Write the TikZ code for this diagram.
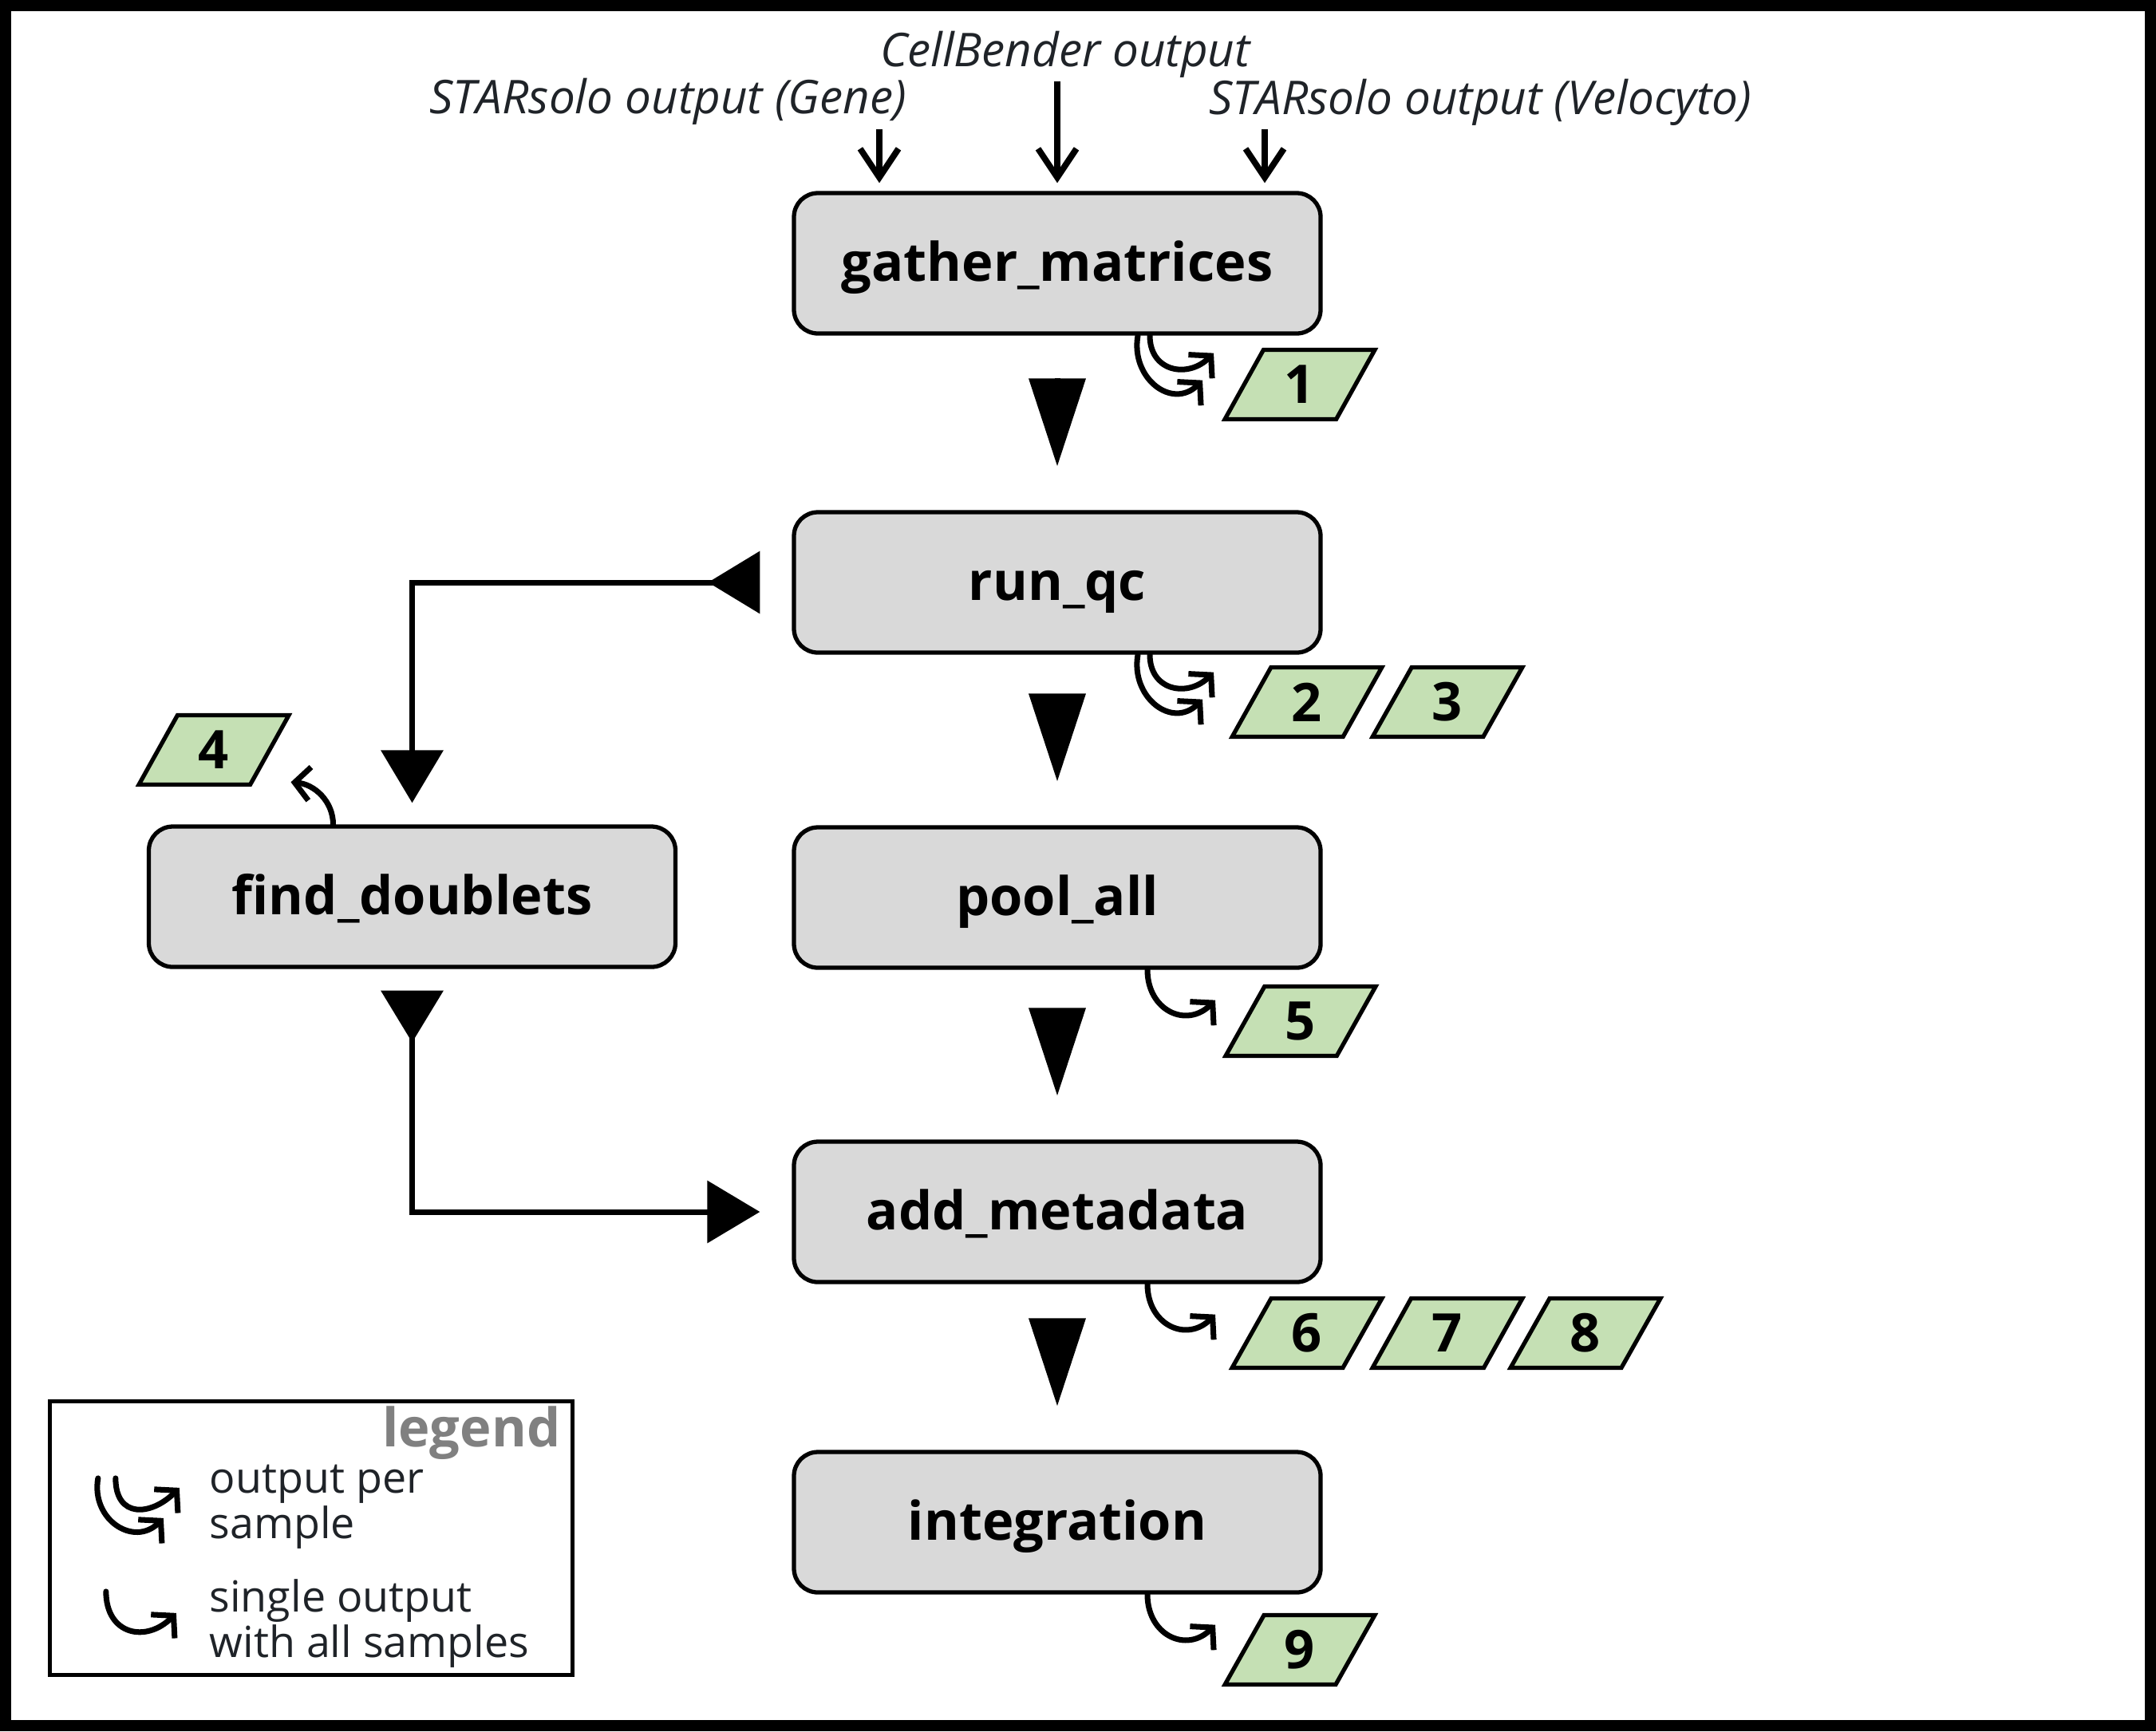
\documentclass[tikz,border=0pt]{standalone}
\usepackage{fontspec}
\setsansfont{Open Sans}
\usepackage{xcolor}
\usepackage{tikz}
\usetikzlibrary{arrows.meta, shapes.geometric, calc}
\definecolor{Ink}{HTML}{1F2328}
\definecolor{BoxGrey}{HTML}{D9D9D9}
\definecolor{OutGreen}{HTML}{C5E0B4}
\definecolor{LegendGrey}{HTML}{808080}

\begin{document}
\begin{tikzpicture}[
  font=\sffamily,
  stage/.style={rounded corners=0.3cm, draw=black, line width=1.5pt, fill=BoxGrey, minimum width=6.6cm, minimum height=1.76cm, inner sep=0pt, text height=0.5cm, text depth=0.06cm, font=\sffamily\bfseries\fontsize{19}{23}\selectfont},
  output/.style={trapezium, trapezium left angle=67, trapezium right angle=113, trapezium stretches=true, draw=black, line width=1.5pt, fill=OutGreen, minimum width=1.88cm, minimum height=0.87cm, inner sep=0pt, font=\sffamily\bfseries\fontsize{19}{23}\selectfont},
  inlabel/.style={text=Ink, inner sep=0pt, font=\sffamily\itshape\fontsize{16.6}{19}\selectfont},
  legendtext/.style={align=left, inner sep=0pt, text=Ink, font=\sffamily\fontsize{15.3}{12.6}\selectfont},
  inarrow/.style={-{Straight Barb[length=3.6mm, width=4.8mm]}, line width=2.2pt, shorten >=0.1cm},
  hook/.style={-{Straight Barb[length=1.9mm, width=4.2mm]}, line width=2pt, line cap=round, line join=round},
  stepdown/.style={-{Triangle[length=11mm, width=7mm]}, line width=2pt, shorten <=0.53cm, shorten >=0.55cm},
  branch/.style={arrows={{Triangle[reversed, length=6.5mm, width=7.7mm]}-{Triangle[length=6.6mm, width=7.7mm]}}, line width=2pt}
]
\useasboundingbox (0,0) rectangle (27.02,-21.70);
\draw[line width=0.14cm] (0.07,-0.07) rectangle (26.95,-21.63);

% pipeline stages
\node[stage] (gather) at (13.25,-3.30) {gather\_matrices};
\node[stage] (runqc) at (13.25,-7.30) {run\_qc};
\node[stage] (pool) at (13.25,-11.25) {pool\_all};
\node[stage] (addmeta) at (13.25,-15.19) {add\_metadata};
\node[stage] (integration) at (13.25,-19.08) {integration};
\node[stage] (doublets) at (5.165,-11.24) {find\_doublets};

% inputs
\node[inlabel, anchor=base] (gene-lbl) at (8.37,-1.42) {STARsolo output (Gene)};
\node[inlabel, anchor=base] (cb-lbl) at (13.35,-0.83) {CellBender output};
\node[inlabel, anchor=base] (velo-lbl) at (18.55,-1.43) {STARsolo output (Velocyto)};
\coordinate (gene-in) at (11.02,-1.62);
\coordinate (cb-in) at (13.25,-1.02);
\coordinate (velo-in) at (15.85,-1.62);
\draw[inarrow] (gene-in) -- (gene-in |- gather.north);
\draw[inarrow] (cb-in) -- (cb-in |- gather.north);
\draw[inarrow] (velo-in) -- (velo-in |- gather.north);

% outputs
\node[output] (out1) at (16.29,-4.82) {1};
\node[output] (out2) at (16.38,-8.80) {2};
\node[output] (out3) at (18.14,-8.80) {3};
\node[output] (out4) at (2.68,-9.40) {4};
\node[output] (out5) at (16.30,-12.80) {5};
\node[output] (out6) at (16.38,-16.71) {6};
\node[output] (out7) at (18.14,-16.71) {7};
\node[output] (out8) at (19.87,-16.71) {8};
\node[output] (out9) at (16.29,-20.68) {9};

% per sample / single output hooks
\foreach \s in {gather, runqc} {
  \draw[hook] ($(\s.south)+(1.01,0)$) to[out=-100, in=225, looseness=1.4] ++(0.81,-0.56);
  \draw[hook] ($(\s.south)+(1.16,0)$) to[out=-90, in=225, looseness=1.4] ++(0.80,-0.22);
}
\foreach \s in {pool, addmeta, integration}
  \draw[hook] ($(\s.south)+(1.13,0)$) to[out=-90, in=225, looseness=1.4] ++(0.85,-0.38);
\draw[hook] ($(doublets.north)+(-0.99,0)$) to[out=90, in=-5] ++(-0.53,0.53);

% flow
\draw[stepdown] (gather) -- (runqc);
\draw[stepdown] (runqc) -- (pool);
\draw[stepdown] (pool) -- (addmeta);
\draw[stepdown] (addmeta) -- (integration);
\draw[branch, shorten <=0.4cm, shorten >=0.27cm] (runqc.west) -| (doublets.north);
\draw[branch, shorten <=0.27cm, shorten >=0.4cm] (doublets.south) |- (addmeta.west);

% legend
\node[draw=black, line width=1.5pt, minimum width=6.55cm, minimum height=3.43cm, inner sep=0pt] (legendbox) at (3.90,-19.28) {};
\node[anchor=base east, inner sep=0pt, text=LegendGrey, font=\sffamily\bfseries\fontsize{19}{23}\selectfont] (legendtitle) at (7.03,-18.13) {legend};
\draw[hook] ($(legendbox.north west)+(0.63,-0.99)$) to[out=-100, in=225, looseness=1.4] ++(0.82,-0.50);
\draw[hook] ($(legendbox.north west)+(0.85,-0.99)$) to[out=-90, in=225, looseness=1.6] ++(0.80,-0.12);
\draw[hook] ($(legendbox.north west)+(0.73,-2.41)$) to[out=-90, in=225, looseness=1.5] ++(0.88,-0.27);
\node[legendtext, anchor=west] (leg-per) at (2.62,-18.89) {output per\\sample};
\node[legendtext, anchor=west] (leg-single) at (2.62,-20.35) {single output\\with all samples};
\end{tikzpicture}
\end{document}
